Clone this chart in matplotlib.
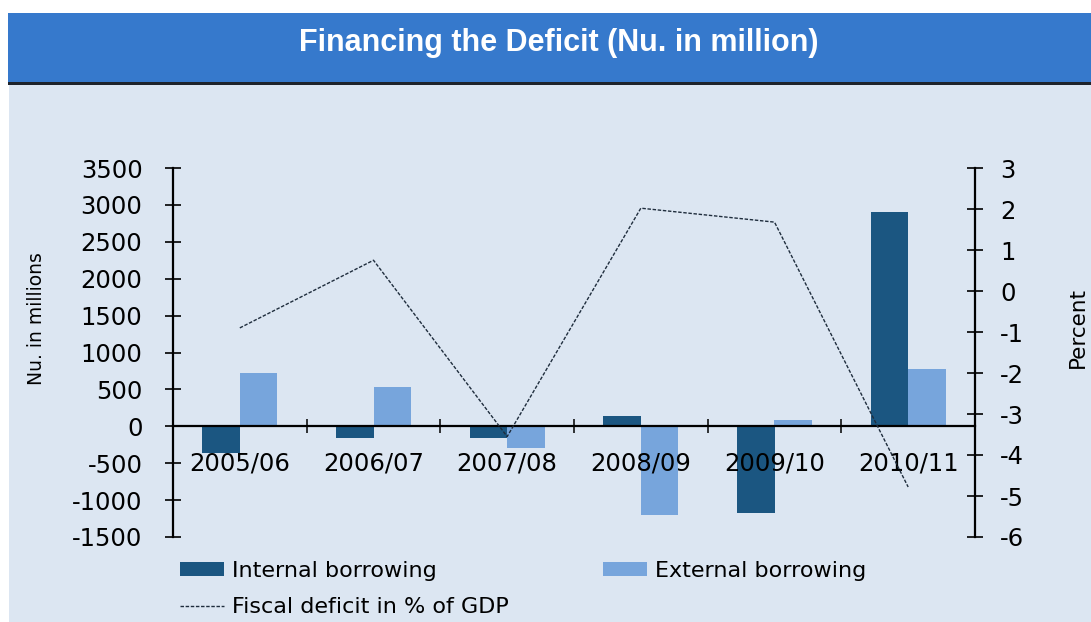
import matplotlib
matplotlib.use("Agg")
import matplotlib.pyplot as plt
from matplotlib.patches import Rectangle, Patch
from matplotlib.lines import Line2D
import numpy as np

# Fiscal years
years = ["2005/06", "2006/07", "2007/08", "2008/09", "2009/10", "2010/11"]
# Nu. in millions
internal_borrowing = [-360, -165, -165, 135, -1175, 2905]
external_borrowing = [725, 535, -300, -1205, 90, 770]
# Percent of GDP
fiscal_deficit_pct = [-0.9, 0.75, -3.55, 2.02, 1.68, -4.78]

left_ticks = list(range(-1500, 3501, 500))
right_ticks = list(range(-6, 4))

W, H = 1091, 622
fig = plt.figure(figsize=(W / 100, H / 100), dpi=100)
fig.patch.set_facecolor("white")

def px_rect(x0, y0, x1, y1, color, z=0):
    r = Rectangle((x0 / W, 1 - y1 / H), (x1 - x0) / W, (y1 - y0) / H,
                  transform=fig.transFigure, facecolor=color, edgecolor="none",
                  zorder=z)
    fig.add_artist(r)

# header band, rule and panel background
px_rect(8, 13, W, 82, "#3679CC", z=-3)
px_rect(8, 82, W, 85, "#1E232B", z=-3)
px_rect(9, 85, W, H, "#DCE6F2", z=-3)

fig.text(0.512, 1 - 51 / H, "Financing the Deficit (Nu. in million)",
         ha="center", va="baseline", color="white", fontsize=22,
         fontweight="bold", family="Liberation Sans")

ax = fig.add_axes([173 / W, 1 - 537 / H, 802 / W, 369 / H])
ax.set_facecolor("none")

x = np.arange(len(years))
bw = 0.28
c_int = "#1B5681"
c_ext = "#77A5DC"
ax.bar(x - bw / 2, internal_borrowing, bw, color=c_int, edgecolor="none", zorder=1)
ax.bar(x + bw / 2, external_borrowing, bw, color=c_ext, edgecolor="none", zorder=1)

ax.set_xlim(-0.5, len(years) - 0.5)
ax.set_ylim(-1500, 3500)
ax.set_yticks(left_ticks)
ax.set_yticklabels([str(v) for v in left_ticks])

ax.spines["top"].set_visible(False)
ax.spines["right"].set_visible(False)
ax.spines["bottom"].set_position(("data", 0))
for s in ("left", "bottom"):
    ax.spines[s].set_linewidth(1.6)
    ax.spines[s].set_color("black")

# category boundaries as major ticks, names on minor ticks
ax.set_xticks(np.arange(0.5, len(years) - 0.5, 1.0))
ax.set_xticklabels([])
ax.set_xticks(x, minor=True)
ax.set_xticklabels(years, minor=True)
ax.tick_params(axis="x", which="major", direction="inout", length=10, width=1.1,
               color="black")
ax.tick_params(axis="x", which="minor", length=0, pad=18.5, labelsize=17.5)
ax.tick_params(axis="y", direction="inout", length=12, width=1.2, pad=16,
               labelsize=17.5, color="black")

ax2 = ax.twinx()
ax2.plot(x, fiscal_deficit_pct, color="#1F2D3D", lw=1.0,
         linestyle=(0, (2.5, 1.2)))
ax2.set_ylim(-6, 3)
ax2.set_yticks(right_ticks)
ax2.set_yticklabels([str(v) for v in right_ticks])
for s in ("top", "left", "bottom"):
    ax2.spines[s].set_visible(False)
ax2.spines["right"].set_linewidth(1.6)
ax2.tick_params(axis="y", direction="inout", length=12, width=1.2, pad=12,
                labelsize=17.5, color="black")

fig.text(37 / W, 1 - 319 / H, "Nu. in millions", rotation=90, ha="center",
         va="center", fontsize=13.5)
fig.text(1078 / W, 1 - 327 / H, "Percent", rotation=90, ha="center",
         va="center", fontsize=15.5)

h_int = Patch(facecolor=c_int, edgecolor="none")
h_ext = Patch(facecolor=c_ext, edgecolor="none")
h_line = Line2D([], [], color="#1F2D3D", lw=1.0, linestyle=(0, (2.5, 1.2)))

leg_kw = dict(frameon=False, loc="upper left", fontsize=16, borderpad=0,
              borderaxespad=0, handlelength=2.0, handleheight=0.55,
              handletextpad=0.33, labelspacing=0.72)
fig.legend([h_int, h_line], ["Internal borrowing", "Fiscal deficit in % of GDP"],
           bbox_to_anchor=(180 / W, 1 - 561 / H), **leg_kw)
fig.legend([h_ext], ["External borrowing"],
           bbox_to_anchor=(603 / W, 1 - 561 / H), **leg_kw)

fig.savefig("out.png", dpi=100)
